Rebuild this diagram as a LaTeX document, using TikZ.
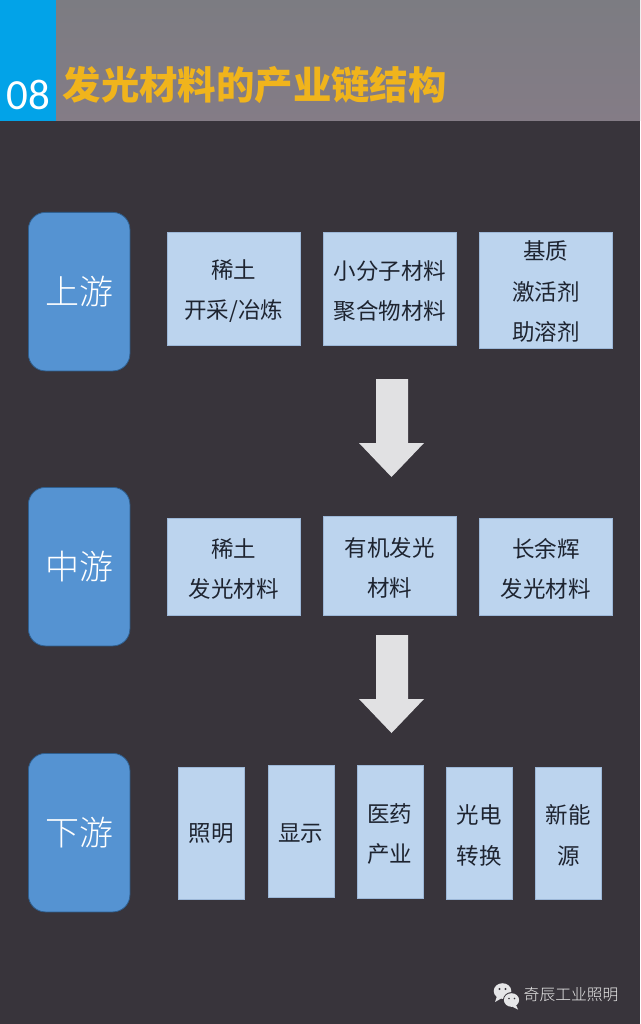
\documentclass[tikz,border=0pt]{standalone}
\usepackage{fontspec}
\setmainfont{Carlito}
\newfontfamily\cjk[BoldFont={Noto Sans CJK SC Black}]{Noto Sans CJK SC}
\newfontfamily\cjkl{Noto Sans CJK SC Light}
\definecolor{bgdark}{HTML}{38343B}
\definecolor{hdrgray}{HTML}{7C7C82}
\definecolor{hdrgrayb}{HTML}{847C86}
\definecolor{tabblue}{HTML}{02A3E8}
\definecolor{titlegold}{HTML}{F0B41C}
\definecolor{stageblue}{HTML}{5593D2}
\definecolor{stageedge}{HTML}{2F5F8F}
\definecolor{boxblue}{HTML}{BCD4EE}
\definecolor{boxedge}{HTML}{9DB8D8}
\definecolor{arrowgray}{HTML}{E1E1E3}
\definecolor{inkdark}{HTML}{1E2430}
\definecolor{markgray}{HTML}{E6E6E8}
\tikzset{
 x=1pt,y=-1pt,
 stagebox/.style={draw=stageedge,line width=0.8pt,fill=stageblue,rounded corners=17pt,anchor=north west,inner sep=0pt,text=white,align=center,font=\cjkl\fontsize{34}{40}\selectfont},
 itembox/.style={draw=boxedge,line width=0.6pt,fill=boxblue,anchor=north west,inner sep=0pt,text=inkdark,align=center,font=\cjk\fontsize{22.5}{40.5}\selectfont},
 flowarrow/.style={fill=arrowgray,draw=none},
}
\newcommand{\stagenode}[4]{\node[stagebox,minimum width=101.5pt,minimum height=158.5pt] (#1) at (#2,#3) {#4};}
\newcommand{\itemnode}[7]{\node[itembox,minimum width=#4pt,minimum height=#5pt] (#1) at (#2,#3) {\rule{0pt}{23pt}#6\\#7};}
\begin{document}
\begin{tikzpicture}
\useasboundingbox (0,0) rectangle (640,1024);
\fill[bgdark] (0,0) rectangle (640,1024);
\shade[bottom color=hdrgrayb,top color=hdrgray] (56,0) rectangle (640,121);
\fill[tabblue] (0,0) rectangle (56,121);
\node[anchor=center,text=white,inner sep=0pt,font=\fontsize{43}{44}\selectfont] (num) at (28,95) {08};
\node[anchor=west,text=titlegold,inner sep=0pt,font=\cjk\bfseries\fontsize{38.4}{44}\selectfont] (title) at (62.5,85.5) {发光材料的产业链结构};

\stagenode{up}{28}{212}{上游}
\stagenode{mid}{28}{487}{中游}
\stagenode{down}{28}{753}{下游}

\itemnode{a1}{167}{232}{133}{113}{稀土}{开采/冶炼}
\itemnode{a2}{323}{232}{133}{113}{小分子材料}{聚合物材料}
\node[itembox,minimum width=133pt,minimum height=116pt] (a3) at (479,232) {\rule{0pt}{22pt}基质\\激活剂\\助溶剂};

\itemnode{b1}{167}{518}{133}{97}{稀土}{发光材料}
\itemnode{b2}{323}{516}{133}{99}{有机发光}{材料}
\itemnode{b3}{479}{518}{133}{97}{长余辉}{发光材料}

\node[itembox,minimum width=66pt,minimum height=132pt] (c1) at (178,767) {照明};
\node[itembox,minimum width=66pt,minimum height=132pt] (c2) at (267.5,765) {\rule{0pt}{22pt}显示};
\itemnode{c3}{356.5}{765}{66}{133}{医药}{产业}
\itemnode{c4}{446}{767}{66}{132}{光电}{转换}
\itemnode{c5}{535}{767}{66}{132}{新能}{源}

\fill[flowarrow] (376,379) -- (408,379) -- (408,443) -- (424,443) -- (391.5,477) -- (359,443) -- (376,443) -- cycle;
\fill[flowarrow] (376,635) -- (408,635) -- (408,699) -- (424,699) -- (391.5,733) -- (359,699) -- (376,699) -- cycle;

% WeChat mark
\fill[markgray] (502.5,991) ellipse [x radius=8.8pt,y radius=7.8pt];
\fill[markgray] (497,996) -- (495,1002) -- (502,998) -- cycle;
\fill[bgdark] (512,1000) ellipse [x radius=9pt,y radius=8pt];
\fill[markgray] (511.5,1000) ellipse [x radius=7.6pt,y radius=6.8pt];
\fill[markgray] (516,1005) -- (518,1009.5) -- (512,1006.5) -- cycle;
\fill[bgdark] (499.5,989) circle (1.1pt) (505.5,989) circle (1.1pt) (509,998.5) circle (0.9pt) (514.5,998.5) circle (0.9pt);
\node[anchor=west,text=white!92!black,inner sep=0pt,font=\cjkl\fontsize{15.8}{18}\selectfont] (brand) at (523.5,995) {奇辰工业照明};
\end{tikzpicture}
\end{document}
